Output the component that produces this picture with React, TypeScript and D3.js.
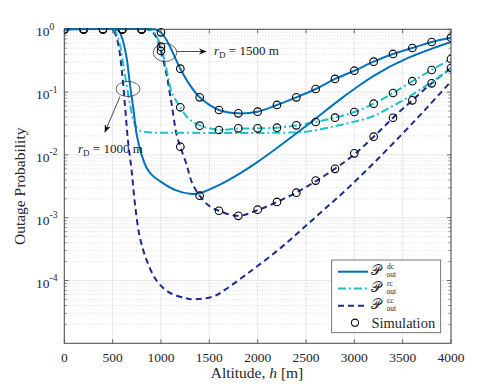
import React from "react";
import * as d3 from "d3";

// Altitude grid of the simulation markers (m)
const simH = [0, 200, 400, 600, 800, 1000, 1200, 1400, 1600, 1800, 2000, 2200, 2400, 2600, 2800, 3000, 3200, 3400, 3600, 3800, 4000];

// r_D = 1000 m curves
const dc1000H = [0, 500, 560, 600, 645, 680, 714, 749, 800, 850, 900, 1000, 1150, 1300, 1400, 1600, 1800, 2000, 2200, 2500, 2850, 3000, 3200, 3550, 4000];
const dc1000P = [1, 1, 0.955, 0.708, 0.347, 0.129, 0.055, 0.0209, 0.01, 0.00631, 0.0049, 0.00372, 0.00275, 0.0024, 0.00245, 0.00331, 0.0049, 0.00776, 0.0129, 0.0288, 0.0759, 0.112, 0.182, 0.347, 0.631];

const rc1000H = [0, 500, 525, 576, 611, 645, 680, 714, 766, 870, 1000, 1500, 2000, 2300, 2500, 2780, 3000, 3200, 3400, 3600, 3800, 4000];
const rc1000P = [1, 1, 0.955, 0.562, 0.269, 0.129, 0.0631, 0.0363, 0.0251, 0.0229, 0.0226, 0.0224, 0.0224, 0.0226, 0.0234, 0.0282, 0.0339, 0.0417, 0.0603, 0.0912, 0.145, 0.24];

const cc1000H = [0, 480, 520, 560, 600, 630, 660, 700, 730, 780, 850, 950, 1075, 1250, 1350, 1550, 1660, 1920, 2200, 2440, 2680, 2920, 3200, 3500, 3750, 4000];
const cc1000P = [1, 1, 0.891, 0.562, 0.186, 0.055, 0.0162, 0.00501, 0.0017, 0.000501, 0.000214, 0.000102, 0.0000661, 0.0000525, 0.0000501, 0.0000562, 0.0000708, 0.000138, 0.000295, 0.000617, 0.00132, 0.00282, 0.00741, 0.0219, 0.0562, 0.148];

// r_D = 1500 m curves
const dc1500H = [0, 930, 955, 1000, 1050, 1100, 1200, 1300, 1400, 1600, 1800, 2000, 2200, 2400, 2600, 2800, 3000, 3200, 3400, 3600, 3800, 4000];
const dc1500P = [1, 1, 0.977, 0.891, 0.708, 0.501, 0.236, 0.129, 0.0826, 0.0519, 0.0459, 0.0488, 0.0624, 0.0826, 0.112, 0.162, 0.219, 0.305, 0.405, 0.504, 0.628, 0.735];

const rc1500H = [0, 880, 904, 950, 1000, 1059, 1111, 1200, 1283, 1400, 1600, 1800, 2000, 2200, 2400, 2600, 2800, 3000, 3200, 3400, 3600, 3800, 4000];
const rc1500P = [1, 1, 0.955, 0.794, 0.525, 0.224, 0.1, 0.0575, 0.038, 0.0295, 0.0251, 0.0263, 0.0265, 0.0271, 0.0295, 0.0334, 0.0392, 0.0482, 0.0653, 0.0968, 0.149, 0.225, 0.337];

const cc1500H = [0, 860, 900, 950, 1000, 1059, 1111, 1162, 1200, 1266, 1318, 1400, 1490, 1600, 1800, 2000, 2200, 2400, 2600, 2800, 3000, 3200, 3400, 3600, 3800, 4000];
const cc1500P = [1, 1, 0.933, 0.759, 0.447, 0.186, 0.0631, 0.0209, 0.0135, 0.00692, 0.00372, 0.00224, 0.00158, 0.00129, 0.00107, 0.00132, 0.00178, 0.00251, 0.0038, 0.00603, 0.0102, 0.0195, 0.0389, 0.0741, 0.138, 0.242];

// Simulation markers (r_D = 1500 m)
const simDc = [1, 1, 1, 1, 1, 0.895, 0.236, 0.0826, 0.0519, 0.0459, 0.0488, 0.0624, 0.0826, 0.112, 0.162, 0.219, 0.305, 0.405, 0.504, 0.628, 0.735];
const simRc = [1, 1, 1, 1, 1, 0.528, 0.0573, 0.0292, 0.0249, 0.0265, 0.0265, 0.0271, 0.0296, 0.0334, 0.0392, 0.0482, 0.0653, 0.0968, 0.149, 0.225, 0.336];
const simCc = [1, 1, 1, 1, 1, 0.452, 0.0135, 0.00224, 0.00129, 0.00107, 0.00134, 0.00178, 0.0025, 0.0039, 0.006, 0.0106, 0.0195, 0.039, 0.074, 0.138, 0.242];

const xTicks = [0, 500, 1000, 1500, 2000, 2500, 3000, 3500, 4000];
const yTickExp = [0, -1, -2, -3, -4];

const C_DC = "#0072BD";
const C_RC = "#1BC3C9";
const C_CC = "#1E2B8C";

const W = 498, H = 386;
const L = 64.3, R = 451, T = 29.3, B = 343.3;
const FONT = "'Liberation Serif', 'DejaVu Serif', serif";

export default function App() {
  const x = d3.scaleLinear().domain([0, 4000]).range([L, R]);
  const y = d3.scaleLog().domain([1e-5, 1]).range([B, T]);

  const line = d3
    .line<[number, number]>()
    .x((d) => x(d[0]))
    .y((d) => y(d[1]))
    .curve(d3.curveCatmullRom.alpha(0.5));

  const zip = (hs: number[], ps: number[]) => hs.map((h, i) => [h, ps[i]] as [number, number]);

  const minor: number[] = [];
  for (let e = -5; e < 0; e++) for (let k = 2; k <= 9; k++) minor.push(k * Math.pow(10, e));

  const curves = [
    { d: zip(cc1000H, cc1000P), c: C_CC, dash: "6,4" },
    { d: zip(cc1500H, cc1500P), c: C_CC, dash: "6,4" },
    { d: zip(rc1000H, rc1000P), c: C_RC, dash: "8,3,2,3" },
    { d: zip(rc1500H, rc1500P), c: C_RC, dash: "8,3,2,3" },
    { d: zip(dc1000H, dc1000P), c: C_DC, dash: "" },
    { d: zip(dc1500H, dc1500P), c: C_DC, dash: "" },
  ];
  const sims = [simDc, simRc, simCc];

  const axisColor = "#4a4a4a";

  return (
    <svg width={W} height={H} style={{ position: "absolute", left: 0, top: 0, background: "#fff" }} fontFamily={FONT}>
      <defs>
        <clipPath id="plot">
          <rect x={L} y={T - 1.2} width={R - L} height={B - T + 1.2} />
        </clipPath>
        <marker id="arr" viewBox="0 0 10 10" refX="9" refY="5" markerWidth="8" markerHeight="8" orient="auto-start-reverse" markerUnits="userSpaceOnUse">
          <path d="M0,1 L10,5 L0,9 L3,5 Z" fill="#111" />
        </marker>
      </defs>
      <rect x={L} y={T} width={R - L} height={B - T} fill="#fff" />
      {/* minor grid */}
      {minor.map((v, i) => (
        <line key={"mg" + i} x1={L} x2={R} y1={y(v)} y2={y(v)} stroke="#c8c8c8" strokeWidth={0.7} strokeDasharray="1,2" />
      ))}
      {/* major grid */}
      {yTickExp.map((e) => (
        <line key={"yg" + e} x1={L} x2={R} y1={y(Math.pow(10, e))} y2={y(Math.pow(10, e))} stroke="#e3e3e3" strokeWidth={0.9} />
      ))}
      {xTicks.map((t) => (
        <line key={"xg" + t} x1={x(t)} x2={x(t)} y1={T} y2={B} stroke="#e3e3e3" strokeWidth={0.9} />
      ))}
      {/* curves */}
      <g clipPath="url(#plot)">
        {curves.map((c, i) => (
          <path key={"c" + i} d={line(c.d) || ""} fill="none" stroke={c.c} strokeWidth={2} strokeDasharray={c.dash || undefined} />
        ))}
        {sims.map((s, j) =>
          s.map((p, i) => (
            <circle key={"s" + j + "_" + i} cx={x(simH[i])} cy={y(p)} r={3.8} fill="none" stroke="#000" strokeWidth={1.1} />
          ))
        )}
      </g>
      {/* axes box */}
      <rect x={L} y={T} width={R - L} height={B - T} fill="none" stroke={axisColor} strokeWidth={1} />
      {xTicks.map((t) => (
        <g key={"xt" + t}>
          <line x1={x(t)} x2={x(t)} y1={B} y2={B - 4} stroke={axisColor} strokeWidth={0.8} />
          <line x1={x(t)} x2={x(t)} y1={T} y2={T + 4} stroke={axisColor} strokeWidth={0.8} />
          <text x={x(t)} y={361.5} textAnchor="middle" fontSize={13.5} fill="#262626">{t}</text>
        </g>
      ))}
      {yTickExp.map((e) => {
        const yy = y(Math.pow(10, e));
        return (
          <g key={"yt" + e}>
            <line x1={L} x2={L + 4} y1={yy} y2={yy} stroke={axisColor} strokeWidth={0.8} />
            <line x1={R} x2={R - 4} y1={yy} y2={yy} stroke={axisColor} strokeWidth={0.8} />
            <text x={36} y={yy + 7} fontSize={13.5} fill="#262626">
              10
              <tspan dy={-6.5} fontSize={9.5}>{String(e)}</tspan>
            </text>
          </g>
        );
      })}
      {minor.map((v, i) => (
        <g key={"mt" + i}>
          <line x1={L} x2={L + 2.5} y1={y(v)} y2={y(v)} stroke={axisColor} strokeWidth={0.6} />
          <line x1={R} x2={R - 2.5} y1={y(v)} y2={y(v)} stroke={axisColor} strokeWidth={0.6} />
        </g>
      ))}
      {/* axis labels */}
      <text x={257} y={378} textAnchor="middle" fontSize={15.5} fill="#262626">
        Altitude, <tspan fontStyle="italic">h</tspan> [m]
      </text>
      <text transform={`translate(25,${(T + B) / 2}) rotate(-90)`} textAnchor="middle" fontSize={15.5} fill="#262626">
        Outage Probability
      </text>
      {/* annotations */}
      <ellipse cx={165} cy={52.5} rx={11.7} ry={9} fill="none" stroke="#222" strokeWidth={0.7} />
      <line x1={176.7} y1={51.5} x2={206} y2={51.5} stroke="#222" strokeWidth={0.8} markerEnd="url(#arr)" />
      <text x={214} y={55} fontSize={13} fill="#222">
        <tspan fontStyle="italic">r</tspan>
        <tspan dy={3} fontSize={9}>D</tspan>
        <tspan dy={-3}> = 1500 m</tspan>
      </text>
      <ellipse cx={128} cy={89} rx={12} ry={7.5} fill="none" stroke="#222" strokeWidth={0.7} />
      <line x1={120} y1={96.5} x2={105} y2={132} stroke="#222" strokeWidth={0.8} markerEnd="url(#arr)" />
      <text x={78} y={153} fontSize={13} fill="#222">
        <tspan fontStyle="italic">r</tspan>
        <tspan dy={3} fontSize={9}>D</tspan>
        <tspan dy={-3}> = 1000 m</tspan>
      </text>
      {/* legend */}
      <rect x={331.7} y={260} width={109} height={72.7} fill="#fff" stroke="#555" strokeWidth={0.8} />
      {[
        { c: C_DC, dash: "", sup: "dc", yy: 271.7 },
        { c: C_RC, dash: "8,3,2,3", sup: "rc", yy: 288.5 },
        { c: C_CC, dash: "6,4", sup: "cc", yy: 305.7 },
      ].map((l) => (
        <g key={l.sup}>
          <line x1={338} x2={368} y1={l.yy} y2={l.yy} stroke={l.c} strokeWidth={2} strokeDasharray={l.dash || undefined} />
          <text x={371} y={l.yy + 3.5} fontSize={14} fill="#262626">𝒫</text>
          <text x={387} y={l.yy - 3} fontSize={7.5} fill="#262626">{l.sup}</text>
          <text x={386.5} y={l.yy + 5.5} fontSize={7.5} fill="#262626">out</text>
        </g>
      ))}
      <circle cx={355} cy={322.7} r={3.6} fill="none" stroke="#000" strokeWidth={1.1} />
      <text x={371.5} y={327.5} fontSize={14.5} fill="#262626">Simulation</text>
    </svg>
  );
}
